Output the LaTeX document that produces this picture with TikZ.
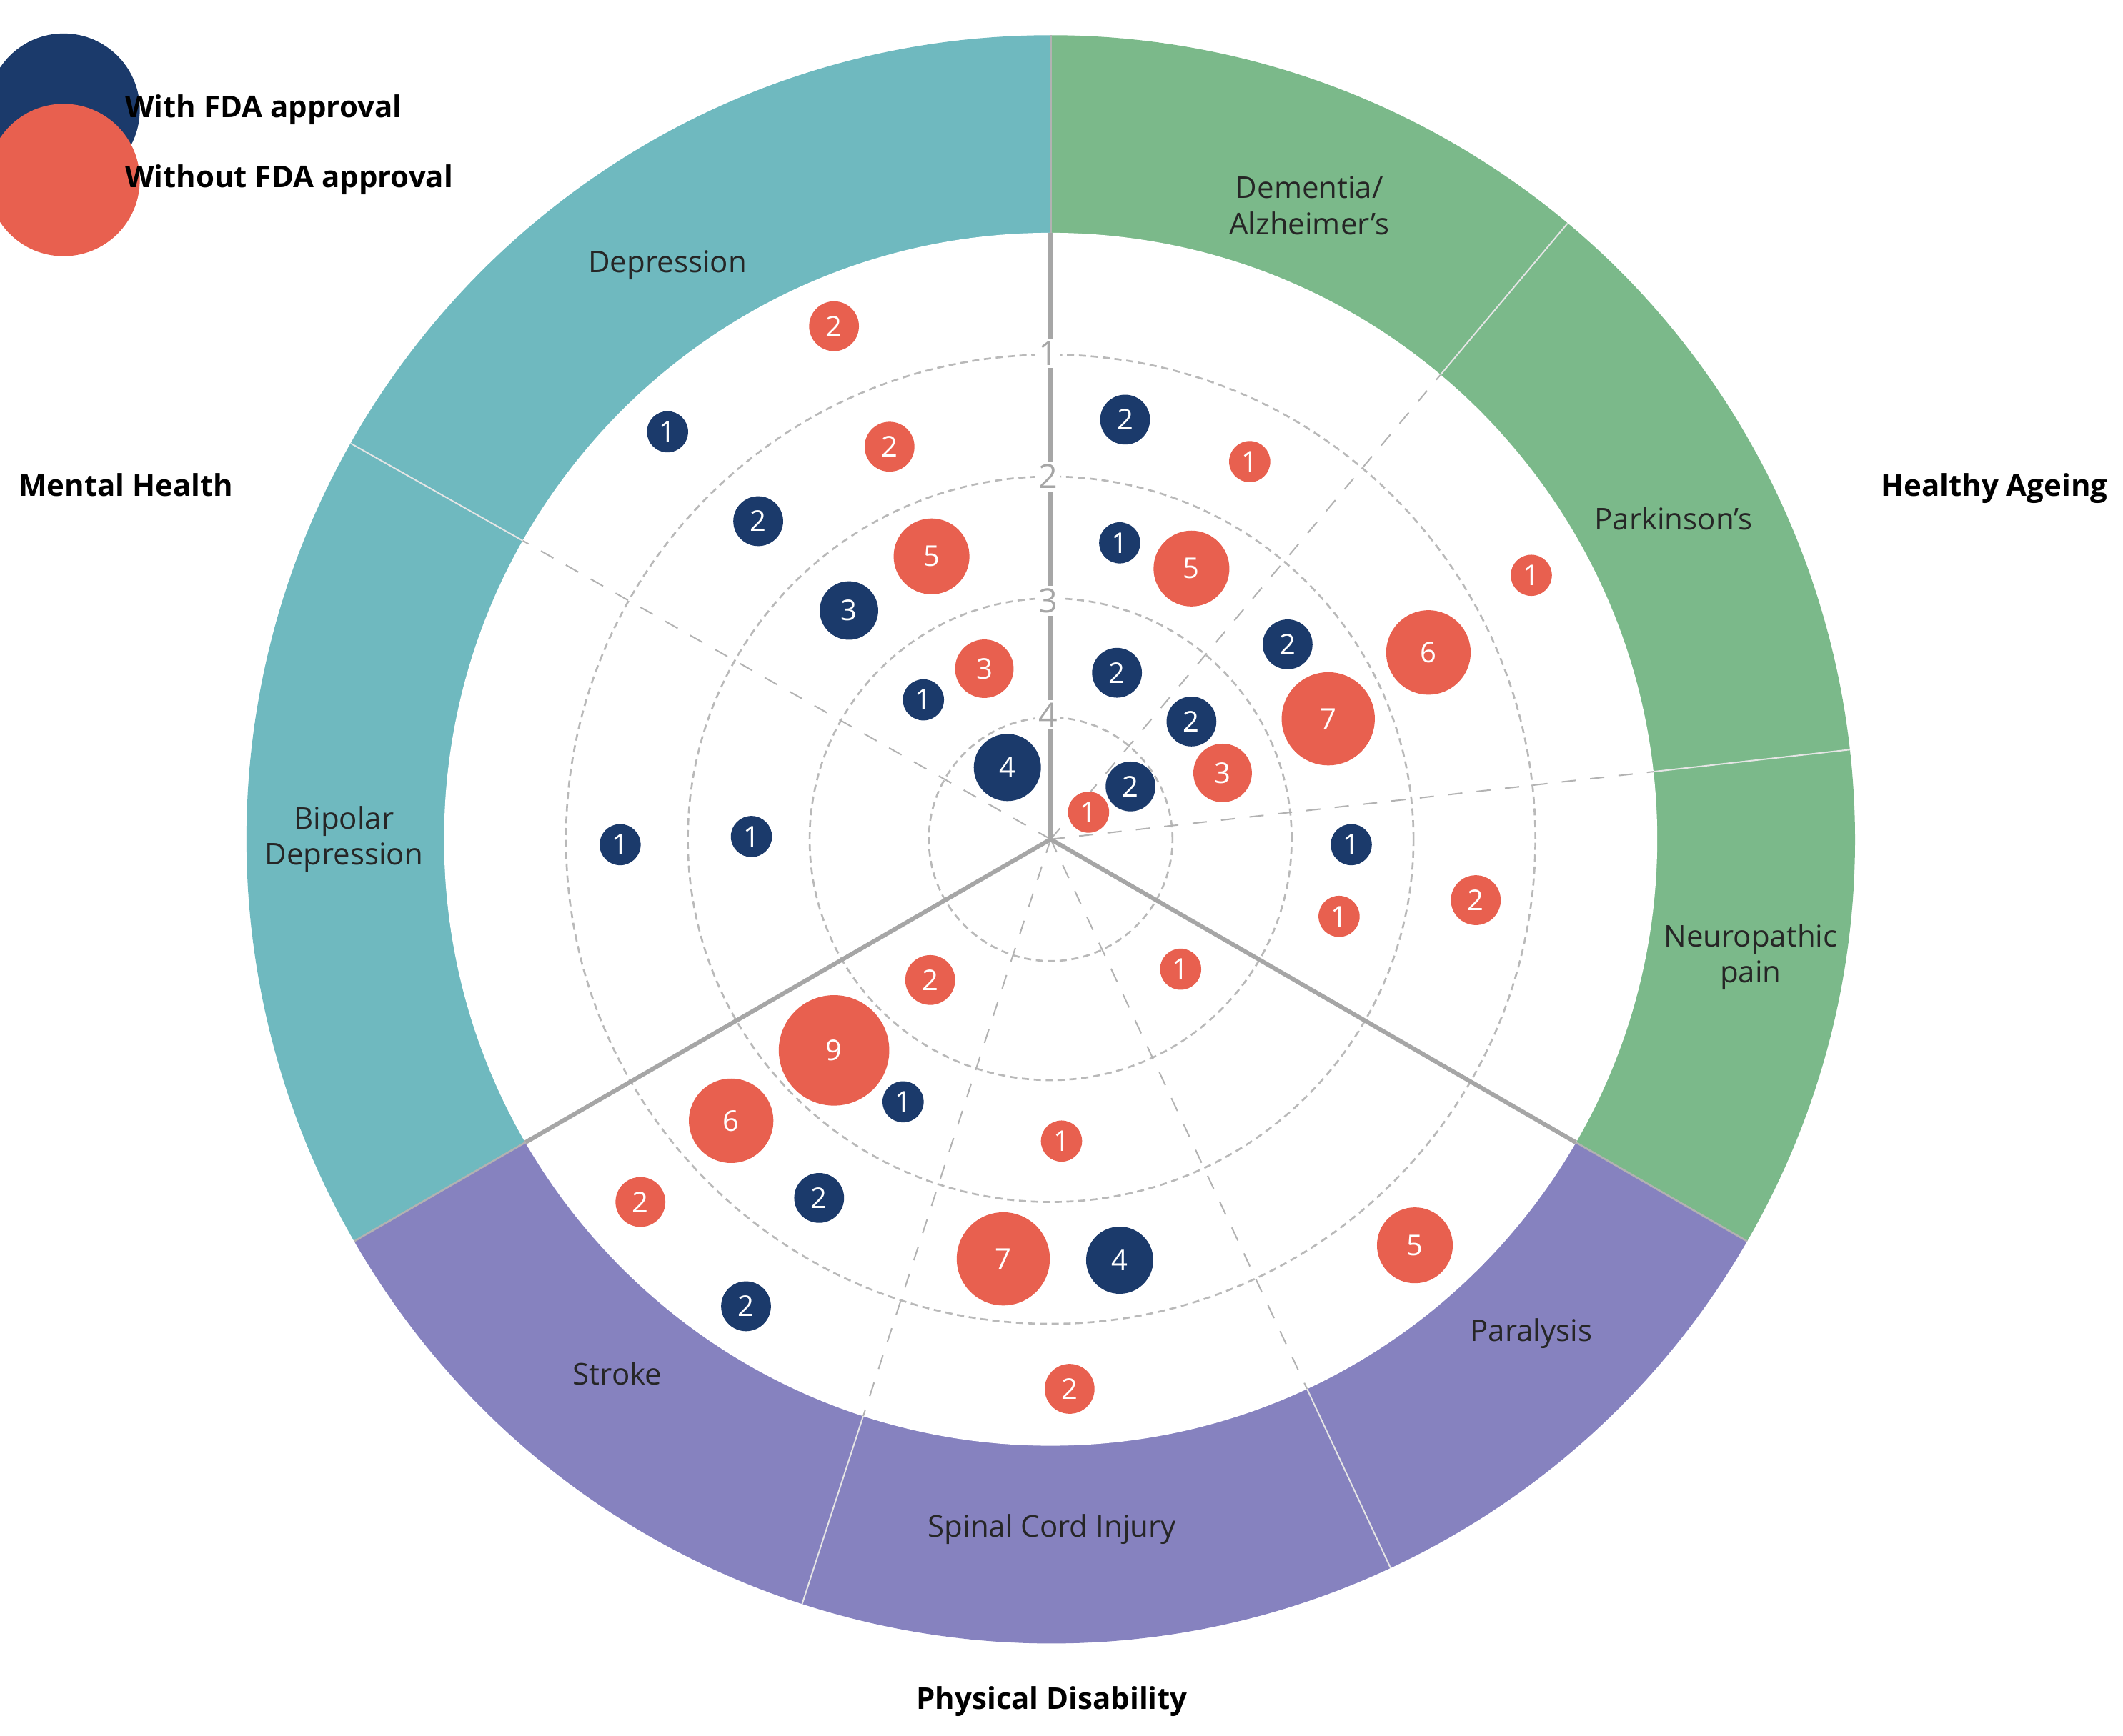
\documentclass[tikz,border=0pt]{standalone}
\usepackage{fontspec}
\setmainfont{Open Sans}
\definecolor{teal1}{HTML}{6FB9BF}
\definecolor{green1}{HTML}{7BB98A}
\definecolor{purp1}{HTML}{8682BF}
\definecolor{fdab}{HTML}{1B3A6B}
\definecolor{fdar}{HTML}{E8604F}
\begin{document}
\begin{tikzpicture}[x=0.01cm,y=-0.01cm,
  lab/.style={font=\fontsize{6.3}{7.6}\selectfont,align=center,text=black!85},
  cat/.style={font=\fontsize{6.3}{7.6}\selectfont\bfseries,text=black},
  bub/.style={circle,inner sep=0pt,text=white,font=\fontsize{6}{7}\selectfont},
  B/.style={bub,fill=fdab},
  R/.style={bub,fill=fdar},
  sub/.style={gray!60,dashed,line width=0.3pt},
  ring/.style={dash pattern=on 1.5pt off 1pt,gray!55,line width=0.4pt},
  axn/.style={fill=white,inner sep=0.6pt,text=gray!70,font=\fontsize{7}{8}\selectfont}]
\useasboundingbox (0,0) rectangle (1568,1282);
\coordinate (C) at (776,620);
\begin{scope}[shift={(C)},x=0.01cm,y=0.01cm]
  \fill[teal1] (0,0) -- (90:594) arc(90:210:594) -- cycle;
  \fill[purp1] (0,0) -- (210:594) arc(210:330:594) -- cycle;
  \fill[green1] (0,0) -- (330:594) arc(330:450:594) -- cycle;
  \fill[white] (0,0) circle (448);
  \foreach \r in {90,178,268,358} \draw[ring] (0,0) circle (\r);
  \foreach \a in {150.5,50,6.4,252,295} {
    \draw[sub] (0,0) -- (\a:448);
    \draw[white!80!gray,line width=0.3pt] (\a:448) -- (\a:594);}
  \foreach \a in {210,330} {
    \draw[gray!70,line width=0.9pt] (0,0) -- (\a:448);
    \draw[gray!60,line width=0.4pt] (\a:448) -- (\a:594);}
  \draw[gray!70,line width=0.9pt] (0,0) -- (90:448);
  \draw[gray!60,line width=0.4pt] (90:448) -- (90:594);
\end{scope}
\node[axn] (n1) at (774,261) {1};
\node[axn] (n2) at (774,352) {2};
\node[axn] (n3) at (774,444) {3};
\node[axn] (n4) at (774,528) {4};
% labels
\node[lab] (l1) at (493,196) {Depression};
\node[lab] (l2) at (967,152) {Dementia/\\Alzheimer’s};
\node[lab] (l3) at (1236,383) {Parkinson’s};
\node[lab] (l4) at (1293,707) {Neuropathic\\pain};
\node[lab] (l5) at (1131,985) {Paralysis};
\node[lab] (l6) at (777,1130) {Spinal Cord Injury};
\node[lab] (l7) at (456,1015) {Stroke};
\node[lab] (l8) at (254,620) {Bipolar\\Depression};
\node[cat] (c1) at (93,358) {Mental Health};
\node[cat] (c2) at (1473,361) {Healthy Ageing};
\node[cat] (c3) at (777,1257) {Physical Disability};
% legend
\node[B,minimum size=32] (lg1) at (47,81) {};
\node[cat,anchor=west] (lt1) at (80,81) {With FDA approval};
\node[R,minimum size=32] (lg2) at (47,133) {};
\node[cat,anchor=west] (lt2) at (80,133) {Without FDA approval};
% bubbles
\foreach \x/\y/\n/\s [count=\i] in {
 616/241/2/R, 493/319/1/B, 657/330/2/R, 560/385/2/B, 688/411/5/R,
 627/451/3/B, 727/494/3/R, 682/517/1/B, 744/567/4/B, 831/310/2/B,
 923/341/1/R, 827/401/1/B, 880/420/5/R, 1131/425/1/R, 951/476/2/B,
 1055/482/6/R, 825/497/2/B, 880/533/2/B, 981/531/7/R, 903/571/3/R,
 835/581/2/B, 804/600/1/R, 998/624/1/B, 1090/665/2/R, 989/677/1/R,
 458/624/1/B, 555/618/1/B, 687/724/2/R, 872/716/1/R, 616/776/9/R,
 667/814/1/B, 540/828/6/R, 784/843/1/R, 473/888/2/R, 605/885/2/B,
 741/930/7/R, 827/931/4/B, 1045/920/5/R, 551/965/2/B, 790/1026/2/R}
 { \pgfmathsetmacro\d{2*(12+3.2*\n)}
   \node[\s,minimum size=\d*0.01cm] (b\i) at (\x,\y) {\n}; }
\end{tikzpicture}
\end{document}
